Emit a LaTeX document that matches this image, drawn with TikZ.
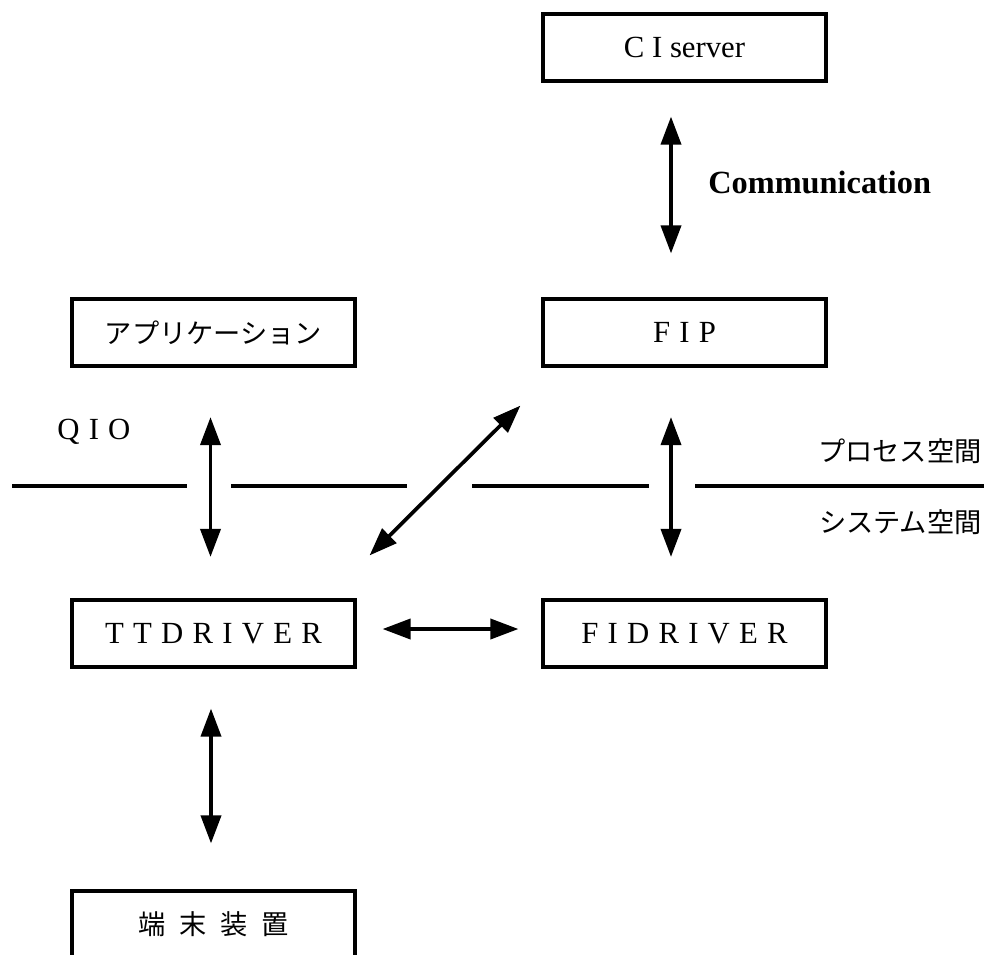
\documentclass[tikz,border=0pt]{standalone}
\usepackage{fontspec}
\setmainfont{Liberation Serif}
\newfontfamily\jpfont{Noto Sans CJK JP}
\usetikzlibrary{arrows.meta}

\newcommand{\spc}[1]{{\addfontfeature{LetterSpace=30}#1}}

\tikzset{
  box/.style={draw, line width=2.1pt, minimum width=5.67cm, minimum height=1.35cm,
    inner sep=0pt, font=\fontsize{17.5}{20}\selectfont},
  jpbox/.style={box, font=\jpfont\fontsize{15.5}{18}\selectfont},
  dbl/.style={{Triangle[length=0.56cm,width=0.4cm]}-{Triangle[length=0.56cm,width=0.4cm]},
    line width=2.1pt},
  sep/.style={line width=2.1pt},
  jplabel/.style={font=\jpfont\fontsize{15.5}{18}\selectfont, inner sep=0pt, anchor=east}
}

\begin{document}
\begin{tikzpicture}[x=0.02cm, y=-0.02cm]
                \clip (0,0) rectangle (987,954);

                % Boxes
                \node[box] (ci) at (684.5, 47.5) {C I server};
                \node[box] (fip) at (684.5, 332.5) {\spc{FIP}};
                \node[jpbox] (app) at (213.5, 332.5) {アプリケーション};
                \node[box] (tt) at (213.5, 633.5) {\spc{TTDRIVER}};
                \node[box] (fid) at (684.5, 633.5) {\spc{FIDRIVER}};
                \node[jpbox] (term) at (213.5, 924.5) {端\hspace{0.5em}末\hspace{0.5em}装\hspace{0.5em}置};

                % Labels
                \node[font=\bfseries\fontsize{18.4}{21}\selectfont, inner sep=0pt, anchor=west] (comm) at (708, 182) {Communication};
                \node[font=\fontsize{17.5}{20}\selectfont, inner sep=0pt, anchor=west] (qio) at (57, 432) {\spc{QIO}};
                \node[jplabel] (proc) at (982, 451) {プロセス空間};
                \node[jplabel] (sys) at (982, 522) {システム空間};

                % Process / system boundary
                \draw[sep] (12, 486) -- (187, 486);
                \draw[sep] (231, 486) -- (407, 486);
                \draw[sep] (472, 486) -- (649, 486);
                \draw[sep] (695, 486) -- (984, 486);

                % Connectors
                \draw[dbl, shorten <=0.67cm, shorten >=0.87cm] ([xshift=-0.27cm]ci.south) -- ([xshift=-0.27cm]fip.north);
                \draw[dbl, shorten <=0.98cm, shorten >=0.82cm] ([xshift=-0.06cm]app.south) -- ([xshift=-0.06cm]tt.north);
                \draw[dbl, shorten <=0.98cm, shorten >=0.82cm] ([xshift=-0.27cm]fip.south) -- ([xshift=-0.27cm]fid.north);
                \draw[dbl, shorten <=0.79cm, shorten >=0.91cm] ([xshift=-0.05cm]tt.south) -- ([xshift=-0.05cm]term.north);
                \draw[dbl, shorten <=0.51cm, shorten >=0.45cm] ([yshift=0.09cm]tt.east) -- ([yshift=0.09cm]fid.west);
                \draw[dbl] ([shift={(0.25cm,0.85cm)}]tt.north east) -- ([shift={(-0.41cm,-0.75cm)}]fip.south west);
            \end{tikzpicture}
\end{document}
